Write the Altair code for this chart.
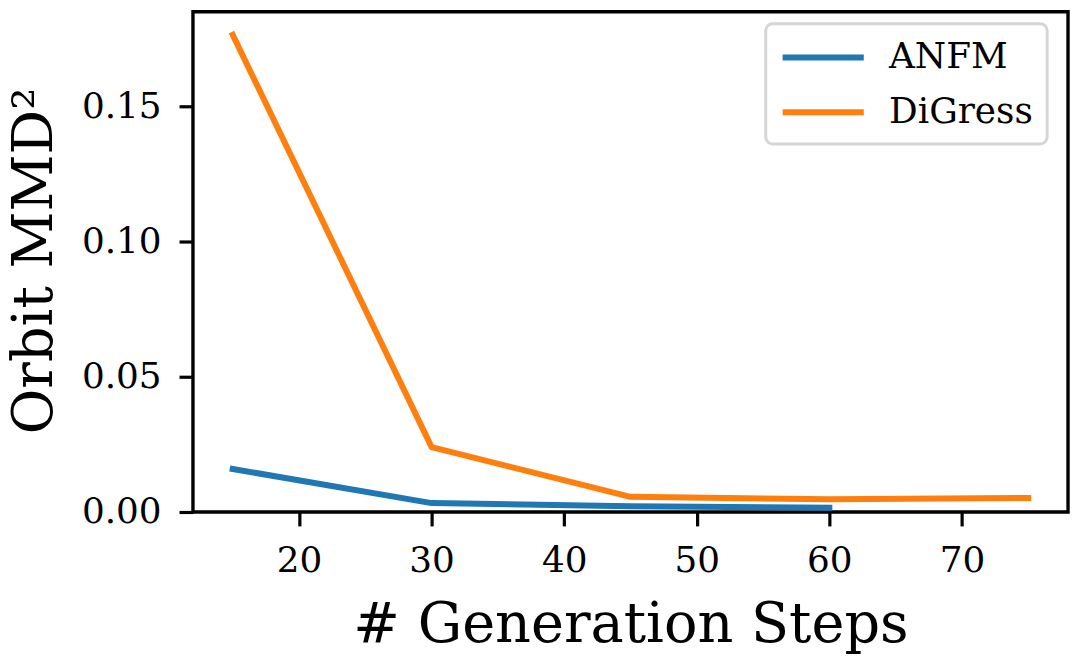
import altair as alt
import pandas as pd

# data
anfm_steps = [15, 30, 45, 60]
anfm_mmd = [0.0159, 0.0033, 0.0021, 0.0016]
digress_steps = [15, 30, 45, 60, 75]
digress_mmd = [0.1765, 0.0240, 0.0056, 0.0047, 0.0052]
series_names = ["ANFM", "DiGress"]
series_colors = ["#1f77b4", "#ff7f0e"]
x_ticks = [20, 30, 40, 50, 60, 70]
y_ticks = [0.0, 0.05, 0.10, 0.15]

df = pd.concat([
    pd.DataFrame({"steps": anfm_steps, "mmd": anfm_mmd, "method": "ANFM"}),
    pd.DataFrame({"steps": digress_steps, "mmd": digress_mmd, "method": "DiGress"}),
])

FONT = "DejaVu Serif"

chart = alt.Chart(df).mark_line(strokeWidth=6, strokeCap="square", strokeJoin="round").encode(
    x=alt.X("steps:Q",
            scale=alt.Scale(domain=[12, 78], nice=False, zero=False),
            axis=alt.Axis(values=x_ticks, title="# Generation Steps", format="d",
                          titleX=440, titleY=130, titleBaseline="alphabetic")),
    y=alt.Y("mmd:Q",
            scale=alt.Scale(domain=[0, 0.185], nice=False),
            axis=alt.Axis(values=y_ticks, title="Orbit MMD²", format=".2f",
                          titleX=-142, titleY=250, titleBaseline="alphabetic",
                          titleAngle=270, titleAlign="center")),
    color=alt.Color("method:N",
                    scale=alt.Scale(domain=series_names, range=series_colors),
                    legend=alt.Legend(title=None, orient="none", legendX=576, legendY=12,
                                      symbolType="M-1,0H3.8", symbolSize=1156,
                                      symbolStrokeWidth=6, labelOffset=70,
                                      labelFontSize=36, labelFont=FONT,
                                      padding=14, rowPadding=17, cornerRadius=7,
                                      strokeColor="#d6d6d6", fillColor="white")),
).properties(
    width=880, height=503,
    autosize=alt.AutoSizeParams(type="none"),
    padding={"left": 186, "top": 2, "right": 4, "bottom": 146},
).configure_view(
    stroke="black", strokeWidth=3.4,
).configure_axis(
    domain=False, grid=False,
    labelFont=FONT, labelFontSize=36, labelColor="black",
    titleFont=FONT, titleFontSize=56, titleFontWeight="normal", titleColor="black",
    tickColor="black", tickSize=14, tickWidth=3.2,
    labelPadding=18,
).configure_legend(
    strokeWidth=3,
)

chart.save("out.html", embed_options={"renderer": "svg", "actions": False})
